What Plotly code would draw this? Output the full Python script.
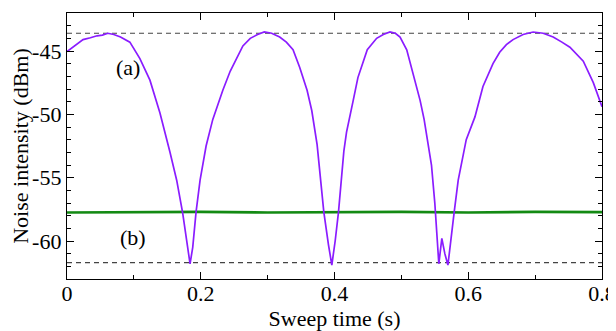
import plotly.graph_objects as go

# Curve (a): sweep time (s) vs noise intensity (dBm)
t_a = [0.0, 0.012, 0.024, 0.035, 0.045, 0.053, 0.061, 0.07, 0.08, 0.094, 0.109, 0.124, 0.139,
       0.154, 0.164, 0.173, 0.179, 0.184, 0.188, 0.193, 0.199, 0.208, 0.218, 0.233, 0.244,
       0.254, 0.263, 0.274, 0.285, 0.295, 0.306, 0.318, 0.328, 0.338, 0.348, 0.359, 0.366,
       0.374, 0.384, 0.391, 0.396, 0.401, 0.406, 0.414, 0.418, 0.428, 0.435, 0.449, 0.463,
       0.473, 0.483, 0.491, 0.498, 0.508, 0.518, 0.528, 0.534, 0.545, 0.55, 0.556, 0.5605,
       0.565, 0.5696, 0.575, 0.579, 0.585, 0.597, 0.61, 0.622, 0.637, 0.647, 0.657, 0.667,
       0.682, 0.697, 0.712, 0.727, 0.74, 0.752, 0.772, 0.787, 0.8]
v_a = [-45.05, -44.6, -44.1, -43.95, -43.8, -43.75, -43.6, -43.7, -43.9, -44.3, -45.6, -47.3,
       -49.9, -53.0, -55.2, -57.8, -59.9, -61.8, -60.5, -57.7, -55.2, -52.5, -50.4, -48.1,
       -46.6, -45.6, -44.6, -44.0, -43.7, -43.5, -43.6, -43.9, -44.3, -44.9, -46.3, -48.1,
       -49.7, -52.4, -57.7, -60.3, -61.9, -60.0, -57.7, -52.9, -51.4, -48.9, -47.1, -44.9,
       -44.0, -43.7, -43.5, -43.6, -43.9, -44.9, -46.8, -48.9, -50.4, -54.0, -57.0, -61.8,
       -59.8, -61.0, -61.9, -59.2, -57.7, -55.2, -52.0, -50.2, -47.8, -46.0, -45.1, -44.5,
       -44.1, -43.7, -43.5, -43.6, -43.9, -44.3, -44.7, -45.8, -47.5, -49.4]

# Curve (b): flat noise floor
t_b = [0.0, 0.1, 0.2, 0.3, 0.4, 0.5, 0.6, 0.7, 0.8]
v_b = [-57.75, -57.7, -57.7, -57.75, -57.7, -57.7, -57.75, -57.7, -57.72]

# Reference dashed levels
ref_levels = [-43.6, -61.7]
x_span = [0.0, 0.8]

x_ticks = [0, 0.2, 0.4, 0.6, 0.8]
x_ticktext = ["0", "0.2", "0.4", "0.6", "0.8"]
y_ticks = [-60, -55, -50, -45]
y_ticktext = ["-60", "-55", "-50", "-45"]

fig = go.Figure()
for lvl in ref_levels:
    fig.add_trace(go.Scatter(x=x_span, y=[lvl, lvl], mode="lines",
                             line=dict(color="#444444", width=1.2, dash="5px,4px"),
                             showlegend=False, hoverinfo="skip"))
fig.add_trace(go.Scatter(x=t_b, y=v_b, mode="lines",
                         line=dict(color="#138a13", width=2.6), showlegend=False))
fig.add_trace(go.Scatter(x=t_a, y=v_a, mode="lines",
                         line=dict(color="#8a1cff", width=1.7), showlegend=False))

font = "Liberation Serif, Times New Roman, serif"
fig.add_annotation(x=0.091, y=-46.3, text="(a)", showarrow=False,
                   font=dict(family=font, size=22, color="black"))
fig.add_annotation(x=0.099, y=-59.7, text="(b)", showarrow=False,
                   font=dict(family=font, size=22, color="black"))

axis_common = dict(showgrid=False, zeroline=False, showline=True, linecolor="black",
                   linewidth=1.3, mirror="ticks", ticks="inside", ticklen=7,
                   tickwidth=1.1, tickcolor="black", automargin=False,
                   tickfont=dict(family=font, size=22, color="black"))

fig.update_xaxes(range=[0, 0.8], tickvals=x_ticks, ticktext=x_ticktext,
                 minor=dict(dtick=0.1, ticks="inside", ticklen=4, tickcolor="black", tickwidth=1),
                 title=dict(text="Sweep time (s)", font=dict(family=font, size=22, color="black"),
                            standoff=6),
                 ticklabeloverflow="allow", ticklabelstandoff=-6,
                 **axis_common)
fig.update_yaxes(range=[-63, -42], tickvals=y_ticks, ticktext=y_ticktext,
                 minor=dict(dtick=1, tick0=-63, ticks="inside", ticklen=4, tickcolor="black", tickwidth=1),
                 title=dict(text="Noise intensity (dBm)", font=dict(family=font, size=22, color="black"),
                            standoff=3),
                 **axis_common)

# page body has an 8px default margin, so the figure is sized to fit the window
fig.update_layout(width=608, height=323, margin=dict(l=59, r=14, t=5, b=52),
                  plot_bgcolor="white", paper_bgcolor="white")

fig.write_html("out.html")
